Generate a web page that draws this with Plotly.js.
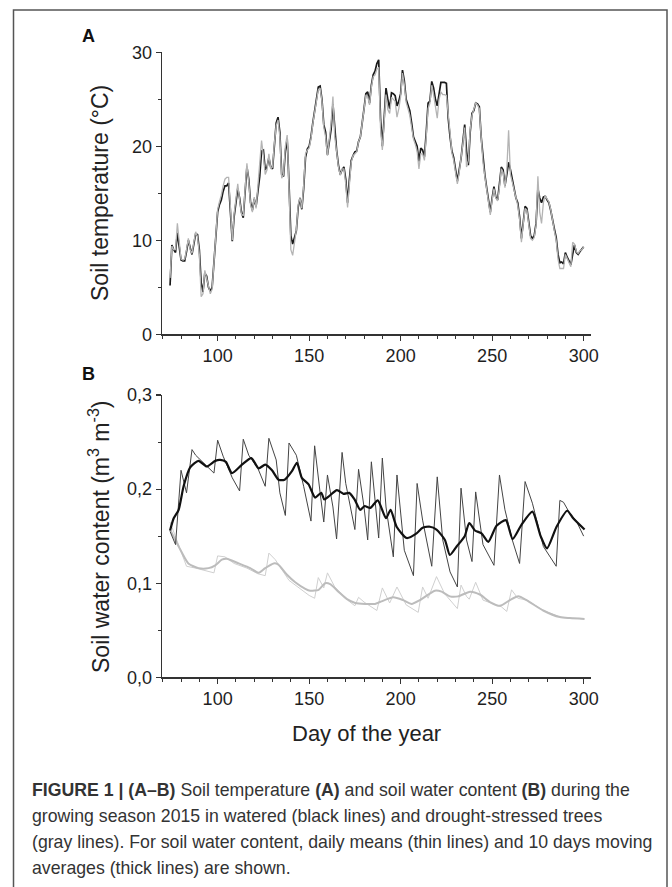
<!DOCTYPE html>
<html>
<head>
<meta charset="utf-8">
<script src="https://cdn.plot.ly/plotly-3.0.1.min.js"></script>
<style>
html,body{margin:0;padding:0;background:#fff;}
#chart{width:672px;height:887px;}
</style>
</head>
<body>
<div id="chart"></div>
<script>
// ---------- Panel A: soil temperature, daily values from day 74 ----------
const firstDay = 74;
const tempWatered = [
  5.2, 9.5, 9.0, 8.7, 10.8, 9.0, 7.9, 7.8, 7.8, 8.8,
  10.0, 9.2, 8.5, 9.6, 10.7, 10.6, 9.0, 5.5, 4.5, 6.5,
  6.2, 5.0, 4.6, 5.0, 7.5, 10.5, 13.0, 13.8, 14.3, 15.2,
  15.8, 15.8, 16.1, 13.0, 9.9, 12.5, 14.2, 15.5, 14.5, 13.0,
  12.4, 15.5, 17.8, 16.5, 14.0, 13.2, 14.4, 13.6, 15.3, 16.8,
  19.5, 19.6, 17.5, 17.8, 18.8, 17.8, 17.6, 20.0, 22.5, 23.1,
  21.5, 17.0, 16.8, 19.5, 20.8, 16.0, 10.5, 9.6, 10.3, 11.0,
  13.5, 14.5, 13.3, 15.5, 18.8, 19.7, 20.0, 21.0, 22.5, 23.8,
  25.2, 26.3, 26.4, 25.0, 22.3, 21.5, 19.1, 20.5, 21.8, 24.5,
  21.5, 19.6, 18.0, 17.0, 17.5, 17.8, 16.5, 14.0, 16.5, 18.5,
  19.0, 19.4, 19.5, 20.5, 21.0, 22.3, 24.0, 25.6, 25.8, 24.6,
  26.5, 27.6, 28.0, 28.8, 29.2, 23.0, 20.0, 23.0, 26.2, 25.0,
  24.0, 25.7, 25.6, 25.4, 24.3, 24.8, 25.6, 28.1, 27.0, 25.0,
  24.3, 23.8, 22.5, 21.0, 20.5, 20.0, 18.4, 19.8, 19.6, 18.9,
  21.5, 24.6, 24.8, 26.9, 26.2, 25.0, 24.3, 25.5, 26.8, 26.8,
  26.8, 26.7, 23.0, 21.0, 19.5, 18.8, 17.5, 16.3, 17.5, 18.7,
  20.5, 22.3, 19.5, 18.0, 21.5, 23.5, 23.8, 24.6, 24.5, 24.2,
  21.0, 18.5, 17.0, 15.6, 14.0, 13.0, 14.5, 15.7, 14.6, 14.3,
  16.0, 17.8, 17.5, 15.8, 17.0, 18.3, 17.5, 16.5, 15.5, 14.5,
  14.0, 12.5, 10.2, 12.0, 13.6, 13.4, 11.8, 10.5, 10.2, 10.5,
  11.8, 15.5, 14.5, 14.0, 14.6, 14.7, 14.3, 14.0, 13.2, 12.0,
  11.2, 10.3, 8.5, 7.6, 7.7, 7.5, 8.7, 8.2, 7.8, 7.4,
  8.5, 9.5, 8.7, 8.5, 8.8, 9.0, 9.3
];
const tempDrought = [
  6.0, 9.4, 9.0, 9.0, 11.8, 9.5, 8.0, 7.9, 8.0, 9.0,
  10.2, 9.0, 8.6, 9.8, 10.9, 10.4, 8.5, 4.0, 4.3, 6.8,
  6.0, 5.0, 4.3, 4.8, 7.8, 11.0, 13.3, 14.1, 14.8, 15.8,
  16.5, 16.7, 16.7, 13.5, 10.0, 12.8, 14.5, 16.0, 14.3, 12.8,
  12.6, 15.8, 18.2, 16.2, 13.8, 13.0, 14.6, 13.4, 15.8, 17.5,
  20.6, 19.0, 17.0, 17.5, 19.2, 17.6, 17.8, 20.3, 22.2, 22.8,
  21.0, 16.6, 17.0, 20.0, 21.2, 15.5, 9.0, 8.4, 10.0, 11.1,
  13.8, 14.5, 13.4, 15.8, 19.2, 19.6, 19.8, 20.8, 22.4, 23.6,
  25.0, 26.0, 26.2, 24.8, 22.0, 21.0, 19.0, 20.8, 22.5, 25.3,
  21.0, 19.5, 17.8, 16.9, 17.6, 17.6, 16.0, 13.5, 16.5, 18.3,
  19.0, 19.2, 19.4, 20.5, 21.0, 22.5, 24.0, 25.4, 25.3, 24.4,
  26.3, 27.4, 27.6, 28.2, 28.4, 22.0, 19.6, 22.5, 25.5, 23.9,
  23.5, 25.2, 25.0, 24.8, 23.1, 24.0, 25.3, 27.8, 26.6, 24.7,
  24.0, 23.3, 22.0, 20.8, 20.2, 19.5, 17.6, 19.2, 19.2, 18.5,
  21.0, 24.0, 24.6, 26.5, 25.5, 24.0, 23.0, 25.0, 25.8, 25.5,
  25.5, 25.4, 23.0, 21.5, 19.3, 18.5, 17.2, 16.0, 17.2, 18.5,
  20.3, 22.0, 17.8, 18.5, 21.8, 23.3, 24.0, 24.6, 24.4, 24.0,
  21.0, 18.3, 16.8, 15.4, 13.6, 12.7, 14.3, 15.5, 14.5, 14.2,
  15.6, 17.6, 17.2, 15.6, 17.5, 21.7, 17.0, 16.2, 15.2, 14.3,
  13.7, 12.2, 9.8, 11.8, 13.4, 13.2, 11.5, 10.2, 10.0, 10.3,
  11.6, 16.8, 13.0, 11.8, 14.0, 14.8, 14.4, 14.1, 13.3, 12.0,
  11.0, 10.0, 8.0, 7.0, 7.0, 7.0, 8.5, 8.0, 7.5, 7.2,
  9.8, 9.6, 8.8, 8.6, 8.9, 9.0, 9.3
];
const tempDays = tempWatered.map((_, i) => firstDay + i);

// ---------- Panel B: soil water content (vertices) ----------
const swcWetDailyDays = [74,77,80,83,86,88,98,100,103,108,112,114,117,122,126,128,132,134,137,139,143,147,151,153,156,158,160,163,165,168,170,173,175,177,180,182,184,188,190,192,196,198,202,207,209,212,217,220,223,227,231,233,236,239,241,245,251,254,257,261,265,268,272,278,285,287,289,292.5,296,300];
const swcWetDaily     = [0.155,0.141,0.220,0.196,0.242,0.236,0.217,0.252,0.235,0.212,0.198,0.253,0.236,0.222,0.203,0.254,0.231,0.196,0.172,0.249,0.236,0.203,0.166,0.246,0.196,0.165,0.215,0.181,0.147,0.239,0.206,0.178,0.157,0.221,0.181,0.146,0.229,0.148,0.233,0.181,0.128,0.215,0.135,0.108,0.206,0.167,0.118,0.213,0.146,0.112,0.096,0.201,0.146,0.123,0.197,0.141,0.119,0.215,0.178,0.146,0.121,0.208,0.185,0.139,0.118,0.188,0.186,0.174,0.166,0.150];

const swcWetAvgDays = [74,76,78.7,81.4,85,89.6,94,98.7,101.4,104.5,107.8,113.3,118.4,122.4,126,129.7,133.3,136.6,140.6,143.3,146,149.7,153.3,156.6,158.3,160.6,165.2,168.8,171.9,174.8,177.9,180.3,183.4,187.5,192,194.5,197.8,203.3,208.7,212,216,219.6,224.2,226.9,230.6,235,237.5,240.6,244.2,247.9,252.4,257.5,261.2,266,272,276.5,280,285.2,291,294.3,300.5];
const swcWetAvg     = [0.156,0.169,0.178,0.203,0.223,0.230,0.224,0.230,0.231,0.229,0.217,0.226,0.233,0.222,0.226,0.220,0.210,0.210,0.219,0.228,0.212,0.205,0.191,0.196,0.189,0.192,0.199,0.195,0.196,0.189,0.178,0.182,0.180,0.188,0.169,0.178,0.160,0.148,0.153,0.159,0.160,0.157,0.146,0.130,0.139,0.150,0.164,0.156,0.153,0.144,0.161,0.167,0.147,0.162,0.176,0.150,0.137,0.160,0.177,0.169,0.157];

const swcDryDailyDays = [74,78,83,88,92,98,100,104,109,116,122,126,128,131.5,139,144,150,153,155,158,160,164,171,175,177,180,187,190,194,198,203,209.6,212,215,219.6,224,231,233,236,237.5,241,245,255,258,260.6,264,269,278,287,293,300];
const swcDryDaily     = [0.165,0.144,0.118,0.116,0.114,0.111,0.129,0.128,0.121,0.116,0.110,0.108,0.132,0.125,0.103,0.096,0.087,0.084,0.106,0.095,0.111,0.096,0.082,0.076,0.085,0.080,0.071,0.095,0.079,0.096,0.077,0.069,0.096,0.084,0.107,0.089,0.073,0.098,0.086,0.083,0.101,0.082,0.075,0.070,0.093,0.084,0.082,0.071,0.064,0.063,0.062];

const swcDryAvgDays = [74,78.7,84,89.6,95,98.7,102.3,105,111.5,117.8,122.4,126,130.6,133,137.9,142.4,147.9,150.6,155.2,158.8,161.5,166,170.7,175.2,180.7,186,188.7,196,201.4,206,210.5,218.7,222.4,226.9,231.5,237.9,243.3,248.8,254.3,259.7,264.3,268.8,277.9,287,292.5,300.5];
const swcDryAvg     = [0.157,0.139,0.121,0.116,0.116,0.119,0.125,0.126,0.121,0.116,0.111,0.116,0.121,0.120,0.109,0.101,0.094,0.092,0.093,0.100,0.099,0.091,0.083,0.079,0.078,0.078,0.080,0.085,0.082,0.078,0.082,0.092,0.091,0.086,0.086,0.091,0.088,0.080,0.076,0.082,0.086,0.082,0.071,0.064,0.063,0.062];

// ---------- Text ----------
const xTitle = 'Day of the year';
const yTitleA = 'Soil temperature (°C)';
const yTitleB = 'Soil water content (m<sup>3</sup> m<sup>-3</sup>)';
const captionLines = [
  '<b>FIGURE 1 | (A–B)</b> Soil temperature <b>(A)</b> and soil water content <b>(B)</b> during the',
  'growing season 2015 in watered (black lines) and drought-stressed trees',
  '(gray lines). For soil water content, daily means (thin lines) and 10 days moving',
  'averages (thick lines) are shown.'
];

// ---------- Layout geometry (full-figure pixels -> paper) ----------
const W = 672, H = 887;
const px = v => v / W;
const py = v => 1 - v / H;
const FONT = 'Liberation Sans, Arial, Helvetica, sans-serif';

const traces = [
  {x: tempDays, y: tempWatered, xaxis: 'x', yaxis: 'y', mode: 'lines',
   line: {color: '#1a1a1a', width: 1.7}, hoverinfo: 'skip'},
  {x: tempDays, y: tempDrought, xaxis: 'x', yaxis: 'y', mode: 'lines',
   line: {color: '#b4b4b4', width: 1.3}, hoverinfo: 'skip'},
  {x: swcDryDailyDays, y: swcDryDaily, xaxis: 'x2', yaxis: 'y2', mode: 'lines',
   line: {color: '#cfcfcf', width: 1}, hoverinfo: 'skip'},
  {x: swcDryAvgDays, y: swcDryAvg, xaxis: 'x2', yaxis: 'y2', mode: 'lines',
   line: {color: '#bcbcbc', width: 2, shape: 'spline', smoothing: 0.6}, hoverinfo: 'skip'},
  {x: swcWetDailyDays, y: swcWetDaily, xaxis: 'x2', yaxis: 'y2', mode: 'lines',
   line: {color: '#444444', width: 1}, hoverinfo: 'skip'},
  {x: swcWetAvgDays, y: swcWetAvg, xaxis: 'x2', yaxis: 'y2', mode: 'lines',
   line: {color: '#111111', width: 2.2, shape: 'spline', smoothing: 0.6}, hoverinfo: 'skip'}
];

const xRange = [69.6, 303.8];
const xDomain = [px(162), px(590.6)];
const axisCommon = {
  showline: true, linecolor: '#333', linewidth: 1.3, mirror: false,
  showgrid: false, zeroline: false,
  ticks: 'outside', ticklen: 5, tickwidth: 1.2, tickcolor: '#333',
  tickfont: {family: FONT, size: 18, color: '#1e1e1e'}
};
const xAxis = Object.assign({}, axisCommon, {
  range: xRange, domain: xDomain, tick0: 0, dtick: 50,
  minor: {ticks: 'outside', ticklen: 3, tickwidth: 1, tickcolor: '#333', tick0: 0, dtick: 10, showgrid: false}
});

const annotations = [
  {text: '<b>A</b>', x: px(88), y: py(36), xref: 'paper', yref: 'paper', showarrow: false,
   font: {family: FONT, size: 18, color: '#111'}, xanchor: 'center', yanchor: 'middle'},
  {text: '<b>B</b>', x: px(88), y: py(374), xref: 'paper', yref: 'paper', showarrow: false,
   font: {family: FONT, size: 18, color: '#111'}, xanchor: 'center', yanchor: 'middle'},
  {text: yTitleA, x: px(100), y: py(193), xref: 'paper', yref: 'paper', showarrow: false, textangle: -90,
   font: {family: FONT, size: 23, color: '#222'}, xanchor: 'center', yanchor: 'middle'},
  {text: yTitleB, x: px(99), y: py(537), xref: 'paper', yref: 'paper', showarrow: false, textangle: -90,
   font: {family: FONT, size: 23, color: '#222'}, xanchor: 'center', yanchor: 'middle'},
  {text: xTitle, x: px(367), y: py(733), xref: 'paper', yref: 'paper', showarrow: false,
   font: {family: FONT, size: 22, color: '#222'}, xanchor: 'center', yanchor: 'middle'}
];
const captionY = [790, 816, 842, 868];
captionLines.forEach((t, i) => {
  annotations.push({text: t, x: px(30), y: py(captionY[i]), xref: 'paper', yref: 'paper', showarrow: false,
    font: {family: FONT, size: 17.7, color: '#333'}, xanchor: 'left', yanchor: 'middle', align: 'left'});
});

const layout = {
  width: W, height: H, autosize: false,
  margin: {l: 0, r: 0, t: 0, b: 0, pad: 0},
  paper_bgcolor: '#fff', plot_bgcolor: '#fff',
  showlegend: false,
  separators: ',.',
  font: {family: FONT, color: '#222'},
  xaxis: Object.assign({}, xAxis, {anchor: 'y'}),
  yaxis: Object.assign({}, axisCommon, {
    range: [0, 30], domain: [py(334.3), py(52.3)], anchor: 'x', tick0: 0, dtick: 10,
    minor: {ticks: 'outside', ticklen: 3, tickwidth: 1, tickcolor: '#333', tick0: 0, dtick: 5, showgrid: false}
  }),
  xaxis2: Object.assign({}, xAxis, {anchor: 'y2'}),
  yaxis2: Object.assign({}, axisCommon, {
    range: [0, 0.3], domain: [py(677.3), py(395)], anchor: 'x2', tick0: 0, dtick: 0.1, tickformat: '.1f',
    minor: {ticks: 'outside', ticklen: 3, tickwidth: 1, tickcolor: '#333', tick0: 0, dtick: 0.05, showgrid: false}
  }),
  annotations: annotations,
  shapes: [
    {type: 'rect', xref: 'paper', yref: 'paper', x0: px(13.5), x1: px(667), y0: py(900), y1: py(10),
     line: {color: '#555', width: 1.5}, fillcolor: 'rgba(0,0,0,0)', layer: 'below'}
  ]
};

Plotly.newPlot('chart', traces, layout, {staticPlot: true, displayModeBar: false});
</script>
</body>
</html>
